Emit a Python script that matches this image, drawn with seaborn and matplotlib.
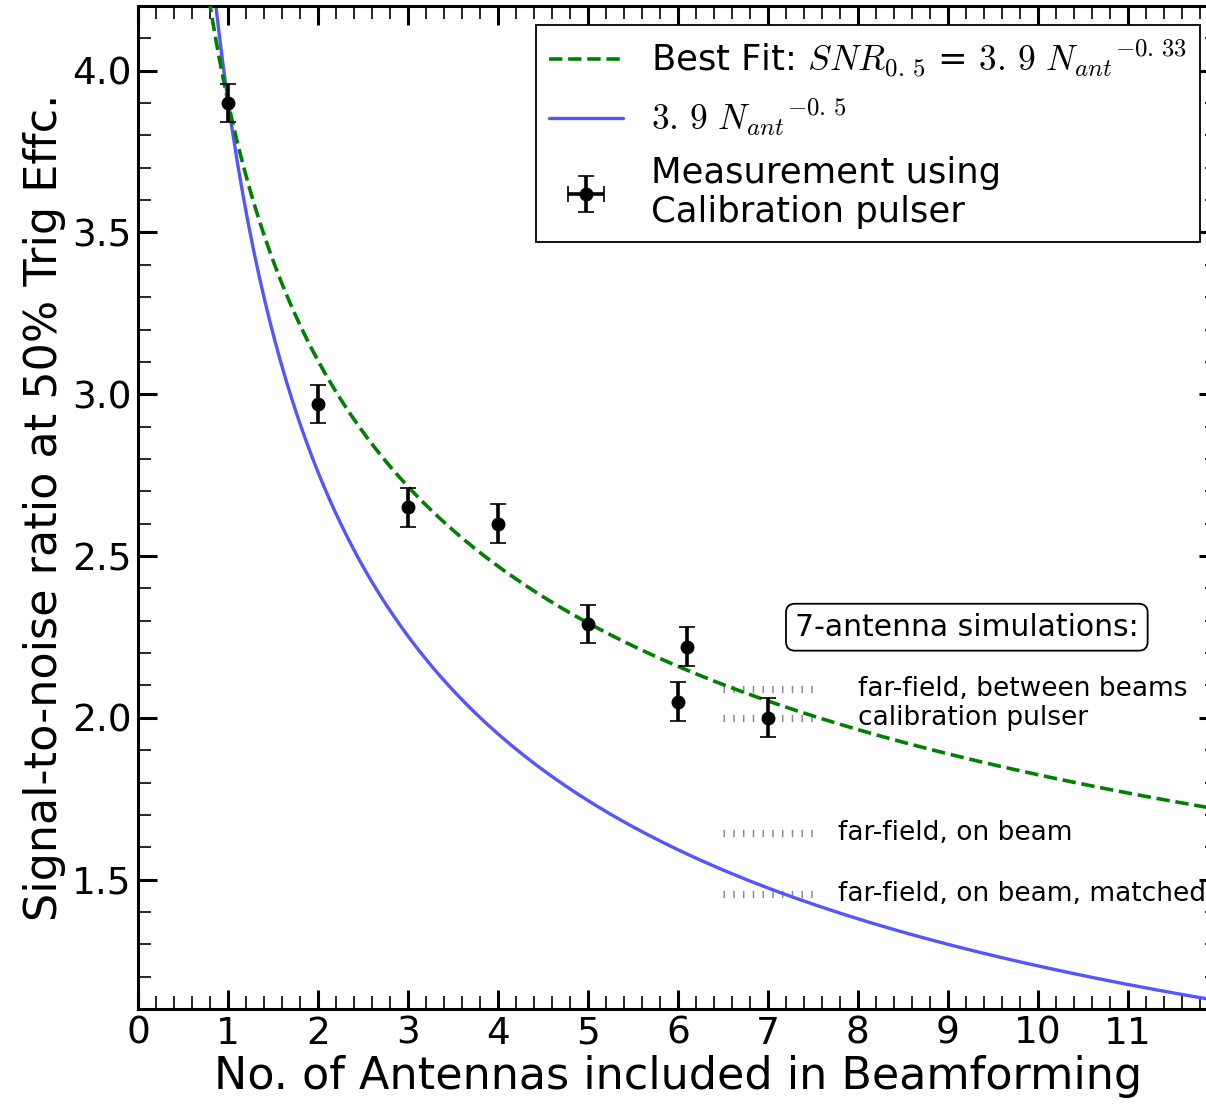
import numpy as np
import pandas as pd
import matplotlib
matplotlib.use("Agg")
import matplotlib.pyplot as plt
import seaborn as sns

# Measured trigger thresholds (calibration pulser)
n_antennas = [1, 2, 3, 4, 5, 6, 6.1, 7]
snr_50 = [3.90, 2.97, 2.65, 2.60, 2.29, 2.05, 2.22, 2.00]
snr_err = [0.06, 0.06, 0.06, 0.06, 0.06, 0.06, 0.06, 0.06]
n_err = [0, 0, 0, 0, 0, 0, 0, 0]

# Power-law models
fit_amp = 3.9
fit_index = -0.33
ideal_index = -0.5

# 7-antenna simulation levels
sim_labels = ["far-field, between beams", "calibration pulser",
              "far-field, on beam", "far-field, on beam, matched"]
sim_snr = [2.09, 2.00, 1.645, 1.455]
sim_text_x = [8.0, 8.0, 7.78, 7.78]

sns.set_style("ticks")
plt.rcParams["font.family"] = ["DejaVu Sans"]
plt.rcParams["mathtext.fontset"] = "cm"
for key in ["text.color", "axes.labelcolor", "xtick.color", "ytick.color",
            "axes.edgecolor"]:
    plt.rcParams[key] = "black"

fig = plt.figure(figsize=(12.06, 11.06), dpi=100)
ax = fig.add_axes([0.1147, 0.0877, 0.895, 0.9069])

n_grid = np.linspace(0.5, 12.5, 400)
curves = pd.DataFrame({
    "n": np.concatenate([n_grid, n_grid]),
    "snr": np.concatenate([fit_amp * n_grid ** fit_index,
                           fit_amp * n_grid ** ideal_index]),
    "model": ["fit"] * len(n_grid) + ["ideal"] * len(n_grid),
})

fit_label = r"Best Fit: $SNR_{0.\,5}$ = $3.\,9\ {N_{ant}}^{-0.\,33}$"
ideal_label = r"$3.\,9\ {N_{ant}}^{-0.\,5}$"

sns.lineplot(data=curves[curves.model == "fit"], x="n", y="snr", ax=ax,
             color="green", linestyle="--", linewidth=2.6, label=fit_label,
             zorder=3)
sns.lineplot(data=curves[curves.model == "ideal"], x="n", y="snr", ax=ax,
             color="#5555ff", linewidth=2.4, label=ideal_label, zorder=2)

ax.errorbar(n_antennas, snr_50, yerr=snr_err, xerr=n_err, fmt="o",
            color="black", ms=9, elinewidth=2.6, capsize=6, capthick=1.2,
            label="Measurement using\nCalibration pulser", zorder=4)

# simulation reference levels
for lvl, lab, tx in zip(sim_snr, sim_labels, sim_text_x):
    ax.plot([6.5, 7.5], [lvl, lvl], color="#888888", linewidth=5.2,
            linestyle=(0, (0.2, 1.15)), dash_capstyle="butt", zorder=1)
    ax.text(tx, lvl, lab, fontsize=19, va="center", ha="left", zorder=5)

ax.text(7.3, 2.28, "7-antenna simulations:", fontsize=21.5, va="center",
        ha="left", zorder=5,
        bbox=dict(boxstyle="round,pad=0.3", facecolor="white",
                  edgecolor="black", linewidth=1.3))

ax.set_xlim(0, 12)
ax.set_ylim(1.1, 4.2)
ax.set_xticks(range(0, 12))
ax.set_yticks([1.5, 2.0, 2.5, 3.0, 3.5, 4.0])
ax.set_xticks(np.arange(0, 12.01, 0.2), minor=True)
ax.set_yticks(np.arange(1.1, 4.201, 0.1), minor=True)
ax.tick_params(which="both", direction="in", top=True, right=True,
               labelsize=27, pad=5)
ax.tick_params(which="major", length=14, width=2.2)
ax.tick_params(which="minor", length=9.5, width=1.2)
for sp in ax.spines.values():
    sp.set_linewidth(2.2)
    sp.set_color("black")

ax.set_xlabel("No. of Antennas included in Beamforming", fontsize=32,
              labelpad=2)
ax.set_ylabel("Signal-to-noise ratio at 50% Trig Effc.", fontsize=32,
              labelpad=4)

leg = ax.legend(loc="upper right", bbox_to_anchor=(0.9836, 0.981),
                borderaxespad=0, fontsize=25.5, fancybox=False, framealpha=1,
                handlelength=2.1, labelspacing=0.5, borderpad=0.35)
leg.get_frame().set_edgecolor("black")
leg.get_frame().set_linewidth(1.3)

fig.savefig("out.png", dpi=100)
